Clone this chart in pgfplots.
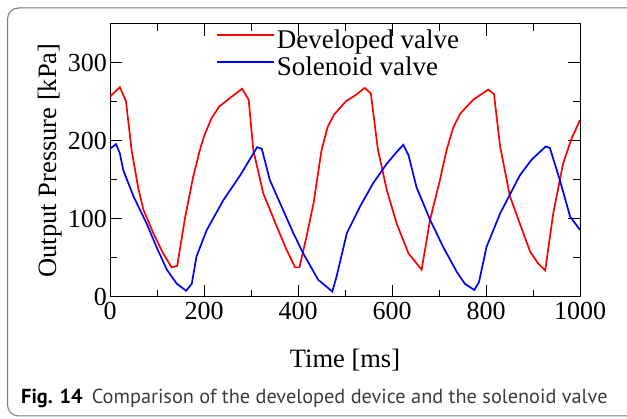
\documentclass[border=0pt]{standalone}
\usepackage{pgfplots}
\pgfplotsset{compat=1.18}
\usepackage{fontspec}
\setmainfont{Liberation Serif}
\newfontfamily\capfont{PT Sans}
\definecolor{boxgray}{RGB}{120,120,120}
\definecolor{captext}{RGB}{60,60,60}
\begin{document}
\begin{tikzpicture}[x=1pt,y=1pt]
\useasboundingbox (0,0) rectangle (627,419);
\draw[boxgray, line width=1pt, rounded corners=11pt] (7.5,3) rectangle (645,411);
\begin{axis}[
  at={(110pt,122pt)}, anchor=south west,
  scale only axis, width=470pt, height=273pt,
  xmin=0, xmax=1000, ymin=0, ymax=350,
  xtick={0,200,...,1000}, ytick={0,100,200,300},
  minor x tick num=1, minor y tick num=1,
  tick align=inside,
  major tick length=12pt, minor tick length=7pt,
  every tick/.style={black, line width=1pt},
  axis line style={line width=1pt},
  /pgf/number format/assume math mode=true,
  /pgf/number format/1000 sep={},
  ticklabel style={font=\fontsize{26}{30}\selectfont},
  xticklabel style={yshift=-2pt},
  yticklabel style={inner sep=3pt},
  xlabel={Time [ms]},
  ylabel={Output Pressure [kPa]},
  label style={font=\fontsize{26.5}{30}\selectfont},
  xlabel style={at={(axis description cs:0.5,-0.23)}, anchor=center},
  ylabel style={at={(axis description cs:-0.128,0.5)}, anchor=center, rotate=0},
  legend style={draw=none, fill=none, at={(axis description cs:0.219,1)}, anchor=north west,
    font=\fontsize{27}{30}\selectfont,
    nodes={text height=18pt, text depth=5pt, inner sep=2pt},
    yshift=-2pt},
  legend cell align=left,
  legend image code/.code={\draw[#1] (0pt,6.5pt) -- (57pt,6.5pt);},
]
\addplot[red, line width=1.7pt] coordinates {
(0,257) (21,269) (34,251) (46,188) (60,140) (71,112) (92,82) (113,56) (131,38) (143,40)
(160,103) (177,154) (191,188) (200,206) (215,228) (232,244) (255,255) (281,267) (295,253)
(305,188) (326,133) (355,90) (376,60) (394,38) (403,38) (418,77) (433,120) (450,188)
(463,218) (477,234) (502,251) (523,259) (542,268) (555,261) (570,189) (589,137) (610,94) (635,56)
(663,35) (681,99) (702,150) (716,188) (730,217) (745,235) (773,253) (805,266) (817,260) (830,193)
(851,129) (872,94) (894,58) (911,43) (926,34) (943,107) (964,171) (982,203) (1000,227)
};
\addlegendentry{Developed valve}
\addplot[blue, line width=1.7pt] coordinates {
(0,190) (13,196) (21,184) (28,163) (50,129) (78,94) (99,64) (121,35) (142,17) (162,8)
(174,17) (184,52) (206,86) (241,124) (277,156) (305,184) (313,192) (323,190) (340,150)
(365,116) (390,82) (411,56) (443,22) (473,7) (482,26) (504,82) (532,116) (560,146)
(589,171) (613,188) (624,195) (635,182) (652,141) (681,99) (709,64) (738,32) (755,17)
(775,9) (785,19) (801,64) (830,107) (872,156) (897,176) (927,193) (936,191) (957,150)
(979,103) (1000,86)
};
\addlegendentry{Solenoid valve}
\end{axis}
\node[anchor=base west, inner sep=0pt, font=\capfont\fontsize{20.3}{22}\selectfont] at (21,15)
  {\textbf{Fig. 14}\hspace{0.45em}\textcolor{captext}{Comparison of the developed device and the solenoid valve}};
\end{tikzpicture}
\end{document}
